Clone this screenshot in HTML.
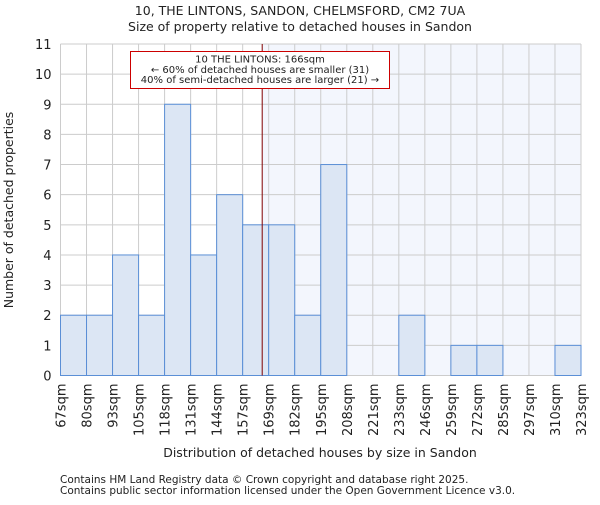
<!DOCTYPE html>
<html><head><meta charset="utf-8"><style>body{margin:0;background:#fff}svg text{font-family:"DejaVu Sans","Liberation Sans",sans-serif;fill:#222}</style></head>
<body>
<svg id="c" width="600" height="500"></svg>
<script>
const edges=["67sqm","80sqm","93sqm","105sqm","118sqm","131sqm","144sqm","157sqm","169sqm","182sqm","195sqm","208sqm","221sqm","233sqm","246sqm","259sqm","272sqm","285sqm","297sqm","310sqm","323sqm"];
const counts=[2,2,4,2,9,4,6,5,5,2,7,0,0,2,0,1,1,0,0,1];
const yTicks=[0,1,2,3,4,5,6,7,8,9,10,11];
const marker=166;
const edgeVals=[67,80,93,105,118,131,144,157,169,182,195,208,221,233,246,259,272,285,297,310,323];
const svg=document.getElementById('c');const NS='http://www.w3.org/2000/svg';
const L=60.5,R=581,T=44,B=375.5,n=counts.length,bw=(R-L)/n;
const x=i=>L+i*bw,y=v=>B-v*(B-T)/11;
function mk(t,a,name){const e=document.createElementNS(NS,t);for(const k in a)e.setAttribute(k,a[k]);


svg.appendChild(e);return e;}
let bi=0;for(let i=0;i<edgeVals.length-1;i++)if(marker>=edgeVals[i])bi=i;
const mx=x(bi)+(marker-edgeVals[bi])/(edgeVals[bi+1]-edgeVals[bi])*bw;
mk('rect',{x:mx,y:T,width:R-mx,height:B-T,fill:'#f3f6fd'},'highlight-region');
yTicks.forEach(v=>{mk('line',{x1:L,x2:R,y1:y(v),y2:y(v),stroke:'#ccc','stroke-width':1},'grid-h');
const t=mk('text',{x:L-9,y:y(v)+5,'text-anchor':'end','font-size':13},'y-tick');t.textContent=v;});
edges.forEach((s,i)=>{mk('line',{x1:x(i),x2:x(i),y1:T,y2:B,stroke:'#ccc','stroke-width':1},'grid-v');
const t=mk('text',{transform:`translate(${x(i)+5},${B+8}) rotate(-90)`,'text-anchor':'end','font-size':13},'x-tick');t.textContent=s;});
counts.forEach((v,i)=>{if(v>0)mk('rect',{x:x(i),y:y(v),width:bw,height:B-y(v),fill:'#dce6f4',stroke:'#5b8fd6','stroke-width':1},'bar');});
mk('line',{x1:mx,x2:mx,y1:T,y2:B,stroke:'#800000','stroke-width':1},'marker-line');
mk('rect',{x:130.5,y:51.5,width:259,height:37,fill:'#fff',stroke:'#c00','stroke-width':1},'annotation-box');
["10 THE LINTONS: 166sqm","← 60% of detached houses are smaller (31)","40% of semi-detached houses are larger (21) →"].forEach((s,i)=>{const t=mk('text',{x:260,y:62.5+i*10.3,'text-anchor':'middle','font-size':10},'annotation-text');t.textContent=s;});
const ti=[["10, THE LINTONS, SANDON, CHELMSFORD, CM2 7UA",15],["Size of property relative to detached houses in Sandon",31]];
ti.forEach(([s,yy])=>{const t=mk('text',{x:300,y:yy,'text-anchor':'middle','font-size':12.5},'chart-title');t.textContent=s;});
let t=mk('text',{x:320,y:457,'text-anchor':'middle','font-size':12.5},'x-axis-title');t.textContent="Distribution of detached houses by size in Sandon";
t=mk('text',{transform:'translate(13,210) rotate(-90)','text-anchor':'middle','font-size':12.5},'y-axis-title');t.textContent="Number of detached properties";
t=mk('text',{x:60,y:483,'font-size':10.5},'footer-line1');t.textContent="Contains HM Land Registry data © Crown copyright and database right 2025.";
t=mk('text',{x:60,y:494,'font-size':10.5},'footer-line2');t.textContent="Contains public sector information licensed under the Open Government Licence v3.0.";
</script>
</body></html>
